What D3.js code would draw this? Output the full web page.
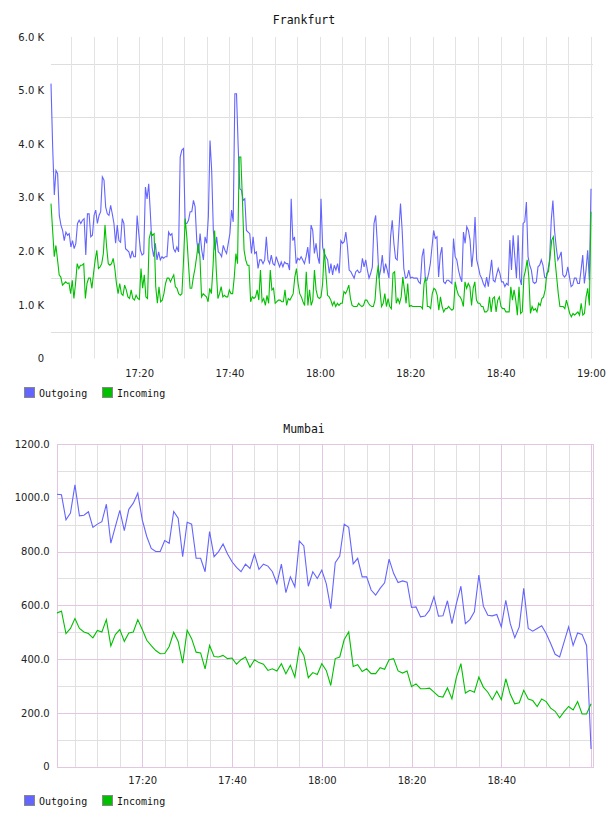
<!DOCTYPE html>
<html>
<head>
<meta charset="utf-8">
<script src="https://cdn.jsdelivr.net/npm/d3@7"></script>
<style>
  body { margin: 0; background: #fff; }
  .ylab text, .xlab text { font-family: "DejaVu Sans", sans-serif; font-size: 10px; fill: #222; }
  .title { font-family: "DejaVu Sans Mono", monospace; font-size: 11.5px; fill: #111; }
  .legend text { font-family: "DejaVu Sans Mono", monospace; font-size: 10px; fill: #111; }
</style>
</head>
<body>
<div id="chart"></div>
<script>
// Frankfurt, values in K, evenly spaced from 17:00:30 to 19:00:00
const frankfurtOut = [
  5.13,3.95,3.05,3.51,3.45,2.67,2.49,2.39,2.2,2.36,2.3,2.33,2.08,2.2,2.05,2.15,2.52,2.58,2.52,2.58,
  2.61,1.93,2.7,2.7,2.27,2.3,2.67,2.77,2.52,2.67,2.74,3.39,3.33,2.83,2.7,2.67,2.86,2.7,2.52,2.15,
  2.49,2.2,2.17,2.61,2.52,2.05,2.02,1.99,1.87,2.01,1.9,1.9,2.67,2.33,2.02,1.93,1.96,3.2,2.98,3.26,
  2.7,2.08,1.9,2.15,1.84,1.99,1.84,1.9,1.87,1.9,1.9,2.36,2.3,2.33,2.05,1.99,2.08,1.99,3.76,3.89,
  3.92,2.52,
  2.52,2.58,2.74,2.74,2.95,2.83,2.2,1.96,2.33,2.02,1.84,2.27,2.15,2.64,4.07,3.51,2.39,2.02,2.27,1.99,
  1.96,1.9,2.11,2.02,1.96,2.15,2.33,2.77,2.55,4.94,4.94,3.95,3.17,3.14,2.95,2.98,2.39,2.36,2.33,1.96,
  2.27,1.96,1.99,1.68,1.84,1.84,1.77,1.84,2.27,1.84,1.77,1.93,1.77,1.74,1.9,1.8,1.71,1.8,1.71,1.8,
  1.77,1.77,1.65,2.98,2.2,2.27,1.77,1.87,1.84,1.9,1.84,1.77,1.9,2.08,1.77,2.49,2.39,1.96,2.15,1.9,
  1.77,2.98,2.08,1.96,1.9,1.84,
  1.59,1.77,1.56,1.74,1.65,1.77,1.59,2.2,2.15,2.18,2.36,2.08,1.65,1.62,1.56,1.5,1.62,1.65,1.6,1.62,
  1.87,1.71,1.84,1.65,1.5,1.59,1.71,2.52,2.67,2.15,1.5,1.65,1.93,1.59,1.77,1.65,1.5,2.27,2.58,2.15,
  1.87,1.84,2.39,2.89,2.39,1.68,1.5,1.52,1.65,1.5,1.52,1.5,1.5,1.5,1.43,1.4,1.9,2.05,1.46,1.46,
  1.59,1.77,2.08,2.39,2.24,2.27,1.52,1.93,2.08,1.43,1.4,1.46,1.46,1.43,1.4,2.24,1.9,1.84,1.65,1.52,
  1.43,2.36,2.15,2.46,2.39,
  2.21,1.71,2.02,2.64,1.84,1.71,1.56,1.5,1.4,1.34,1.52,1.34,1.59,1.84,1.46,1.43,1.56,1.68,1.59,1.43,
  1.43,1.34,1.4,1.37,2.21,1.65,2.3,1.9,1.5,2.3,1.5,1.37,2.52,2.55,2.92,1.9,1.74,1.65,1.43,1.4,
  1.43,1.71,1.74,1.84,1.74,1.52,1.5,1.65,1.84,2.58,2.95,2.39,2.08,1.84,1.9,1.99,1.56,1.52,1.56,1.71,
  1.52,1.34,1.37,1.5,1.5,1.4,1.4,1.65,1.93,1.4,1.65,2.02,1.46,3.17
];
const frankfurtIn = [
  2.89,2.39,1.9,2.11,1.84,1.56,1.52,1.37,1.4,1.43,1.4,1.41,1.21,1.46,1.12,1.4,1.77,1.68,1.74,1.74,
  1.77,1.12,1.4,1.5,1.5,1.31,1.59,1.84,2.02,1.68,1.71,1.77,1.96,2.49,2.08,1.77,1.74,1.77,1.87,1.68,
  1.4,1.21,1.4,1.21,1.18,1.37,1.28,1.15,1.12,1.28,1.12,1.09,1.18,1.12,1.1,1.68,1.31,1.56,1.15,1.12,
  2.24,2.36,2.3,2.33,1.34,1.03,1.34,1.06,1.09,1.21,1.4,1.5,1.5,1.43,1.5,1.56,1.34,1.31,1.21,1.18,
  1.21,1.84,2.61,2.27,1.77,1.31,
  1.31,1.52,1.68,1.9,2.15,1.9,1.15,1.21,1.18,1.15,1.06,1.31,1.21,1.71,2.39,1.65,1.12,1.21,1.34,1.15,
  1.18,1.15,1.15,1.28,1.21,1.21,1.52,1.96,1.77,3.76,3.76,2.95,2.02,1.84,1.74,1.74,1.06,1.15,1.12,1.15,
  1.28,1.09,1.65,1.06,1.12,0.99,1.18,1.03,1.65,1.28,1.31,1.03,1.06,1.09,1.09,1.06,1.06,1.28,0.99,1.12,
  1.09,1.15,1.21,1.52,1.68,1.4,1.21,1.15,1.06,0.99,1.62,0.99,1.28,0.99,1.09,1.65,1.28,1.15,1.12,1.15,
  1.4,2.05,1.59,1.18,1.15,1.09,
  0.99,1.06,0.97,1.03,0.99,1.03,1.03,1.25,1.21,1.28,1.37,1.12,0.99,0.97,0.97,0.97,1.03,0.99,0.97,0.99,
  1.09,1.09,1.03,0.99,0.97,0.97,1.09,1.52,1.74,1.28,0.97,1.03,1.21,0.97,1.12,0.97,0.93,1.59,1.62,1.03,
  1.12,1.03,1.15,1.52,1.28,1.03,1.4,0.97,0.99,0.97,0.97,0.97,0.97,0.97,0.97,0.93,1.4,1.52,0.97,0.97,
  0.93,1.21,1.31,1.28,1.18,0.9,1.15,0.97,0.87,0.93,0.93,0.97,0.93,0.9,0.93,1.43,1.28,1.18,1.15,1.09,
  0.97,1.43,1.31,1.4,1.34,
  0.99,1.31,1.43,1.09,1.03,1.03,0.97,0.97,0.87,0.87,0.9,1.15,0.87,1.12,1.15,0.87,1.09,1.15,0.97,0.93,
  0.93,0.87,0.87,0.87,1.34,1.09,1.28,1.09,0.81,1.34,0.84,0.87,1.52,1.65,1.84,1.52,0.84,0.97,0.9,0.93,
  0.87,1.03,0.99,1.12,1.15,1.28,1.59,1.62,1.9,2.21,2.27,1.84,1.52,1.21,0.97,0.97,0.97,0.93,1.09,0.97,
  0.84,0.78,0.84,0.81,0.84,0.87,0.81,1.03,0.81,0.84,1.15,1.31,0.99,2.74
];

// Mumbai, one value per minute from 17:01 to 19:00
const mumbaiOut = [
  1013,1011,918,943,1048,933,935,948,890,902,911,976,831,893,953,878,957,980,1017,918,
  856,812,800,800,841,831,949,924,781,909,
  902,775,775,725,874,781,800,828,791,762,741,725,753,737,791,734,753,746,725,681,
  753,647,706,669,839,821,671,725,700,731,
  681,588,759,783,902,890,754,775,706,706,657,638,663,684,772,719,685,691,686,592,
  594,557,560,582,632,560,561,617,532,607,
  671,532,547,576,713,597,563,561,566,520,619,532,480,520,663,514,504,514,524,495,
  458,418,408,464,520,451,497,492,451,66
];
const mumbaiIn = [
  572,578,495,514,551,514,501,495,479,507,501,547,449,491,510,466,497,501,547,510,
  470,450,432,420,421,447,500,466,385,507,
  476,426,423,364,451,410,408,414,402,404,381,398,408,370,398,387,381,358,364,356,
  383,346,377,333,443,414,331,350,343,383,
  358,302,402,408,473,501,373,379,354,364,346,346,368,362,398,402,356,348,356,298,
  308,290,290,292,277,262,259,293,252,333,
  383,274,284,277,333,296,277,249,281,249,327,269,234,238,284,252,246,224,252,242,
  218,206,182,205,224,211,242,196,196,234
];

const seriesNames = ["Outgoing", "Incoming"];
const seriesColors = ["#6464ff", "#00c000"];
const frankfurtTicks = [0, 1, 2, 3, 4, 5, 6];
const frankfurtGrid = [0.5, 1.5, 2.5, 3.5, 4.5, 5.5];
const mumbaiTicks = [0, 200, 400, 600, 800, 1000, 1200];
const mumbaiMinor = [100, 300, 500, 700, 900, 1100];
const frankfurtTimes = ["17:20", "17:40", "18:00", "18:20", "18:40", "19:00"];
const mumbaiTimes = ["17:20", "17:40", "18:00", "18:20", "18:40"];

const parseT = d3.timeParse("%H:%M:%S");
const parseHM = d3.timeParse("%H:%M");

const svg = d3.select("#chart").append("svg")
  .attr("width", 608)
  .attr("height", 816);

// spread n samples evenly between two times
function spread(n, a, b) {
  const t0 = +parseT(a), t1 = +parseT(b);
  return d3.range(n).map(i => new Date(t0 + i * (t1 - t0) / (n - 1)));
}

function drawLegend(g, y) {
  const item = g.append("g").attr("class", "legend")
    .selectAll("g").data(seriesNames).enter().append("g")
    .attr("transform", (d, i) => "translate(" + (24.5 + i * 78) + "," + y + ")");
  item.append("rect")
    .attr("width", 10).attr("height", 10)
    .attr("fill", (d, i) => seriesColors[i])
    .attr("stroke", "#888");
  item.append("text")
    .attr("x", 14.5).attr("y", 9)
    .text(d => d);
}

// ---------- Frankfurt ----------
(function () {
  const g = svg.append("g");
  const x = d3.scaleTime()
    .domain([parseT("17:00:30"), parseT("19:00:00")])
    .range([51, 591]);
  const y = d3.scaleLinear().domain([0, 6]).range([358.5, 37]);

  g.append("text").attr("class", "title")
    .attr("x", 304).attr("y", 24).attr("text-anchor", "middle")
    .text("Frankfurt");

  g.selectAll(".hg").data(frankfurtGrid).enter().append("line")
    .attr("x1", 51).attr("x2", 593)
    .attr("y1", d => Math.round(y(d)) + 0.5).attr("y2", d => Math.round(y(d)) + 0.5)
    .attr("stroke", "#dedede");

  g.selectAll(".vg").data(x.ticks(d3.timeMinute.every(5))).enter().append("line")
    .attr("x1", d => Math.round(x(d)) + 0.5).attr("x2", d => Math.round(x(d)) + 0.5)
    .attr("y1", 37).attr("y2", 358.5)
    .attr("stroke", "#e3e3e3");

  const yAxis = g.append("g").attr("class", "ylab")
    .attr("transform", "translate(51,0)")
    .call(d3.axisLeft(y).tickValues(frankfurtTicks).tickSize(0).tickPadding(7)
      .tickFormat(d => d === 0 ? "0" : d3.format(".1f")(d) + " K"));
  yAxis.select(".domain").remove();

  const xAxis = g.append("g").attr("class", "xlab")
    .attr("transform", "translate(0,358.5)")
    .call(d3.axisBottom(x).tickValues(frankfurtTimes.map(parseHM)).tickSize(0).tickPadding(11)
      .tickFormat(d3.timeFormat("%H:%M")));
  xAxis.select(".domain").remove();

  [frankfurtOut, frankfurtIn].forEach((vals, k) => {
    const times = spread(vals.length, "17:00:30", "19:00:00");
    g.append("path")
      .datum(vals)
      .attr("fill", "none")
      .attr("stroke", seriesColors[k])
      .attr("stroke-width", 1.1)
      .attr("d", d3.line().x((d, i) => x(times[i])).y(d => y(d)));
  });

  drawLegend(g, 387.5);
})();

// ---------- Mumbai ----------
(function () {
  const g = svg.append("g");
  const x = d3.scaleTime()
    .domain([parseT("17:00:56"), parseT("19:00:30")])
    .range([56.7, 593.3]);
  const y = d3.scaleLinear().domain([0, 1200]).range([766.7, 444]);
  const x0 = 57, x1 = 593, y0 = 444, y1 = 767;

  g.append("text").attr("class", "title")
    .attr("x", 304).attr("y", 433).attr("text-anchor", "middle")
    .text("Mumbai");

  const minutes = x.ticks(d3.timeMinute.every(5));
  g.selectAll(".vg").data(minutes).enter().append("line")
    .attr("x1", d => Math.round(x(d)) + 0.5).attr("x2", d => Math.round(x(d)) + 0.5)
    .attr("y1", y0).attr("y2", y1)
    .attr("stroke", d => d.getMinutes() % 20 === 0 ? "#e2c6e2" : "#e0e0e0");

  g.selectAll(".hm").data(mumbaiMinor).enter().append("line")
    .attr("x1", x0).attr("x2", x1)
    .attr("y1", d => Math.round(y(d)) + 0.5).attr("y2", d => Math.round(y(d)) + 0.5)
    .attr("stroke", "#e0e0e0");
  g.selectAll(".hM").data(mumbaiTicks.slice(1, -1)).enter().append("line")
    .attr("x1", x0).attr("x2", x1)
    .attr("y1", d => Math.round(y(d)) + 0.5).attr("y2", d => Math.round(y(d)) + 0.5)
    .attr("stroke", "#e2c6e2");

  g.append("rect")
    .attr("x", x0 + 0.5).attr("y", y0 + 0.5)
    .attr("width", x1 - x0).attr("height", y1 - y0)
    .attr("fill", "none").attr("stroke", "#e2c6e2");

  const yAxis = g.append("g").attr("class", "ylab")
    .attr("transform", "translate(56.7,0)")
    .call(d3.axisLeft(y).tickValues(mumbaiTicks).tickSize(0).tickPadding(7)
      .tickFormat(d => d === 0 ? "0" : d3.format(".1f")(d)));
  yAxis.select(".domain").remove();

  const xAxis = g.append("g").attr("class", "xlab")
    .attr("transform", "translate(0,766.7)")
    .call(d3.axisBottom(x).tickValues(mumbaiTimes.map(parseHM)).tickSize(0).tickPadding(10)
      .tickFormat(d3.timeFormat("%H:%M")));
  xAxis.select(".domain").remove();

  [mumbaiOut, mumbaiIn].forEach((vals, k) => {
    const times = spread(vals.length, "17:01:00", "19:00:00");
    g.append("path")
      .datum(vals)
      .attr("fill", "none")
      .attr("stroke", seriesColors[k])
      .attr("stroke-width", 1.1)
      .attr("d", d3.line().x((d, i) => x(times[i])).y(d => y(d)));
  });

  drawLegend(g, 795.5);
})();
</script>
</body>
</html>
